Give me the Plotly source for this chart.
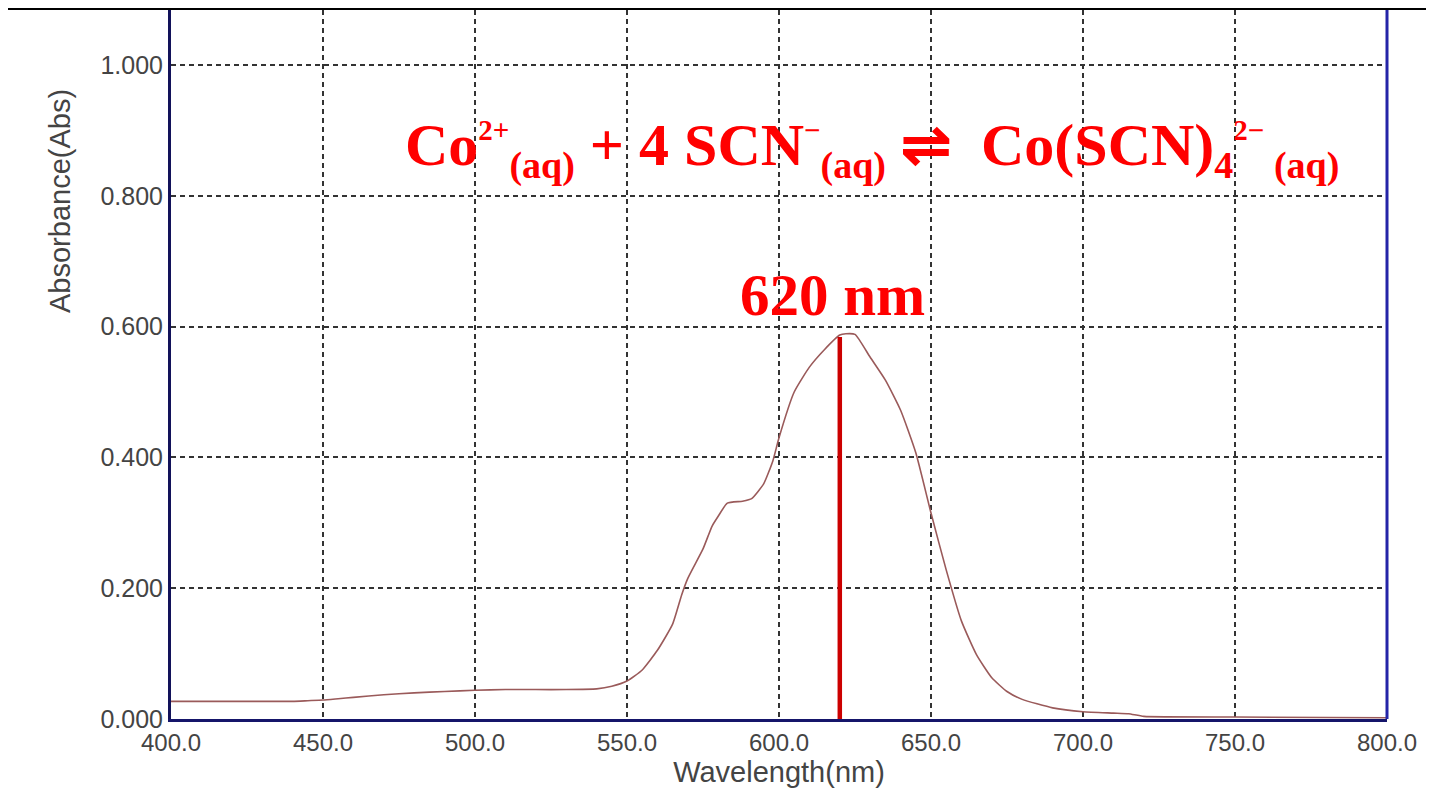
import plotly.graph_objects as go

wavelength = [400, 410, 420, 430, 440, 445, 450, 455, 460, 470, 480, 490, 500, 510, 520, 530, 540, 545,
              550, 555, 560, 565, 568, 570, 575, 578, 580, 583, 588, 591, 595, 598, 600, 605, 610, 615,
              620, 622, 625, 630, 635, 640, 645, 650, 655, 660, 665, 670, 675, 680, 690, 700, 710, 715,
              720, 750, 800]
absorbance = [0.027, 0.027, 0.027, 0.027, 0.027, 0.028, 0.029, 0.031, 0.033, 0.037, 0.040, 0.042, 0.044,
              0.045, 0.045, 0.045, 0.046, 0.050, 0.058, 0.075, 0.105, 0.145, 0.19, 0.215, 0.26, 0.295,
              0.31, 0.33, 0.333, 0.337, 0.36, 0.395, 0.43, 0.50, 0.538, 0.565, 0.587, 0.589, 0.588,
              0.553, 0.518, 0.472, 0.407, 0.315, 0.228, 0.15, 0.098, 0.063, 0.042, 0.030, 0.017, 0.011,
              0.009, 0.008, 0.004, 0.003, 0.002]

x_ticks = [400, 450, 500, 550, 600, 650, 700, 750, 800]
y_ticks = [0.0, 0.2, 0.4, 0.6, 0.8, 1.0]
peak_wl = 620
peak_abs = 0.584

# page shows the figure offset by the body margin (8px)
OFF = 8
W, H = 1434 - OFF, 802 - OFF
L, R, T, B = 171 - OFF, 1434 - 1387, 10 - OFF, 802 - 719
pw, ph = W - L - R, H - T - B


def px(xs):
    return (xs - OFF - L) / pw


def py(ys):
    return (H - B - (ys - OFF)) / ph


fig = go.Figure()
fig.add_trace(go.Scatter(x=wavelength, y=absorbance, mode="lines",
                         line=dict(color="#9a5a5a", width=1.6, shape="spline", smoothing=0.5),
                         showlegend=False))
fig.add_trace(go.Scatter(x=[peak_wl, peak_wl], y=[0, peak_abs], mode="lines",
                         line=dict(color="#cc0000", width=4.5), showlegend=False))

fig.add_shape(type="rect", xref="paper", yref="paper", x0=px(0), x1=px(1440), y0=py(10), y1=py(0),
              fillcolor="black", line=dict(width=0), layer="below")
fig.add_shape(type="line", xref="paper", yref="paper", x0=1, x1=1, y0=0, y1=1,
              line=dict(color="#2424a8", width=3))

SUP = '<sup><span style="font-size:29px">{}</span></sup>'
SUB = '<sub><span style="font-size:38px">{}</span></sub>'
eq = ("<b>Co" + SUP.format("2+") + SUB.format("(aq)") + " + 4 SCN" + SUP.format("−") + SUB.format("(aq)")
      + " ⇌  Co(SCN)" + SUB.format("4") + SUP.format("2−") + SUB.format(" (aq)") + "</b>")
fig.add_annotation(x=630.5, y=0.870, xref="x", yref="y", showarrow=False, text=eq,
                   font=dict(family="Liberation Serif", size=60, color="#ff0000"))
fig.add_annotation(x=617.5, y=0.648, xref="x", yref="y", showarrow=False,
                   text="<b>620 nm</b>",
                   font=dict(family="Liberation Serif", size=59, color="#ff0000"))
fig.add_annotation(x=px(60), y=py(201), xref="paper", yref="paper", showarrow=False, textangle=-90,
                   xanchor="center", yanchor="middle",
                   text="Absorbance(Abs)", font=dict(family="Liberation Sans", size=29, color="#444444"))

fig.update_xaxes(range=[400, 800], tickvals=x_ticks, ticktext=[f"{v:.1f}" for v in x_ticks],
                 showgrid=True, gridcolor="#333333", griddash="5px,4px", gridwidth=1.5,
                 showline=True, linecolor="#15156a", linewidth=3, zeroline=False, ticks="",
                 ticklabelstandoff=0,
                 tickfont=dict(family="Liberation Sans", size=24, color="#444444"),
                 title=dict(text="Wavelength(nm)", font=dict(family="Liberation Sans", size=29, color="#444444"),
                            standoff=2))
fig.update_yaxes(range=[0, 1.084], tickvals=y_ticks, ticktext=[f"{v:.3f}" for v in y_ticks],
                 showgrid=True, gridcolor="#333333", griddash="5px,4px", gridwidth=1.5,
                 showline=True, linecolor="#12125a", linewidth=3, zeroline=False, ticks="",
                 ticklabelstandoff=0,
                 tickfont=dict(family="Liberation Sans", size=25, color="#444444"))

fig.update_layout(width=W, height=H, margin=dict(l=L, r=R, t=T, b=B),
                  paper_bgcolor="white", plot_bgcolor="white", showlegend=False)
fig.write_html("out.html")
